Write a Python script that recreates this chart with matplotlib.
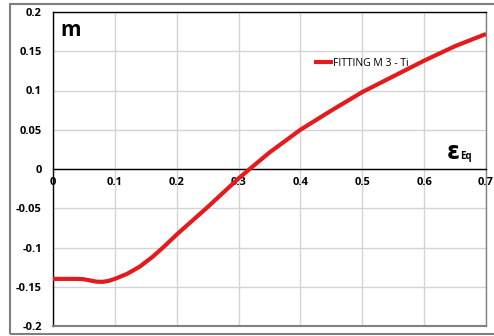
import numpy as np
import matplotlib.pyplot as plt
from matplotlib.patches import Rectangle

# fitted m vs equivalent strain (M 3 - Ti)
eps = [0.0, 0.02, 0.04, 0.05, 0.06, 0.07, 0.08, 0.09, 0.10, 0.12, 0.14, 0.16,
       0.18, 0.20, 0.25, 0.30, 0.318, 0.35, 0.40, 0.45, 0.50, 0.55, 0.60,
       0.65, 0.70]
m = [-0.140, -0.140, -0.140, -0.1405, -0.142, -0.1435, -0.1438, -0.1425,
     -0.140, -0.1335, -0.1245, -0.1125, -0.0985, -0.0835, -0.0485, -0.012,
     0.0, 0.021, 0.050, 0.0745, 0.098, 0.118, 0.138, 0.1565, 0.172]

xticks = [0, 0.1, 0.2, 0.3, 0.4, 0.5, 0.6, 0.7]
xlabels = ["0", "0.1", "0.2", "0.3", "0.4", "0.5", "0.6", "0.7"]
yticks = [-0.2, -0.15, -0.1, -0.05, 0, 0.05, 0.1, 0.15, 0.2]
ylabels = ["-0.2", "-0.15", "-0.1", "-0.05", "0", "0.05", "0.1", "0.15", "0.2"]

plt.rcParams['font.family'] = ['Open Sans', 'DejaVu Sans']

fig = plt.figure(figsize=(4.94, 3.36), dpi=100)
# outer chart frame
fig.patches.append(Rectangle((10/494, 2/336), 490/494, 330/336,
                             transform=fig.transFigure, fill=False,
                             edgecolor='#7f7f7f', lw=1.5))

ax = fig.add_axes([53/494, 10/336, 433/494, 314/336])
ax.set_xlim(0, 0.7)
ax.set_ylim(-0.2, 0.2)

ax.grid(True, color='#d4d4d4', lw=1)
ax.set_axisbelow(True)

ax.plot(eps, m, '-', color='#e41a1c', lw=3, label="FITTING M 3 - Ti",
        solid_capstyle='butt', solid_joinstyle='round', zorder=3)

# x axis crosses at zero
ax.spines['bottom'].set_position(('data', 0))
ax.spines['bottom'].set_color('black')
ax.spines['left'].set_color('black')
ax.spines['top'].set_color('black')
ax.spines['right'].set_color('#808080')
for s in ax.spines.values():
    s.set_linewidth(1)
ax.plot([0, 1], [0, 0], transform=ax.transAxes, color='#808080', lw=1.5,
        clip_on=False, zorder=4)

ax.set_xticks(xticks)
ax.set_xticklabels(xlabels, fontsize=8, fontweight='bold')
ax.set_yticks(yticks)
ax.set_yticklabels(ylabels, fontsize=8, fontweight='bold')
ax.tick_params(axis='x', length=0, pad=6)
ax.tick_params(axis='y', length=0, pad=8)

ax.text(0.012, 0.176, "m", fontsize=15, fontweight='bold', ha='left', va='center')
ax.text(0.658, 0.021, r"$\mathbf{\varepsilon}$", fontsize=17, ha='right', va='center')
ax.text(0.658, 0.016, "Eq", fontsize=7, fontweight='bold', ha='left', va='center')

ax.legend(loc='upper left', bbox_to_anchor=(0.59, 0.87), frameon=False,
          fontsize=7.5, handlelength=1.9, handletextpad=0.0, borderpad=0)

fig.savefig("out.png", dpi=100)
